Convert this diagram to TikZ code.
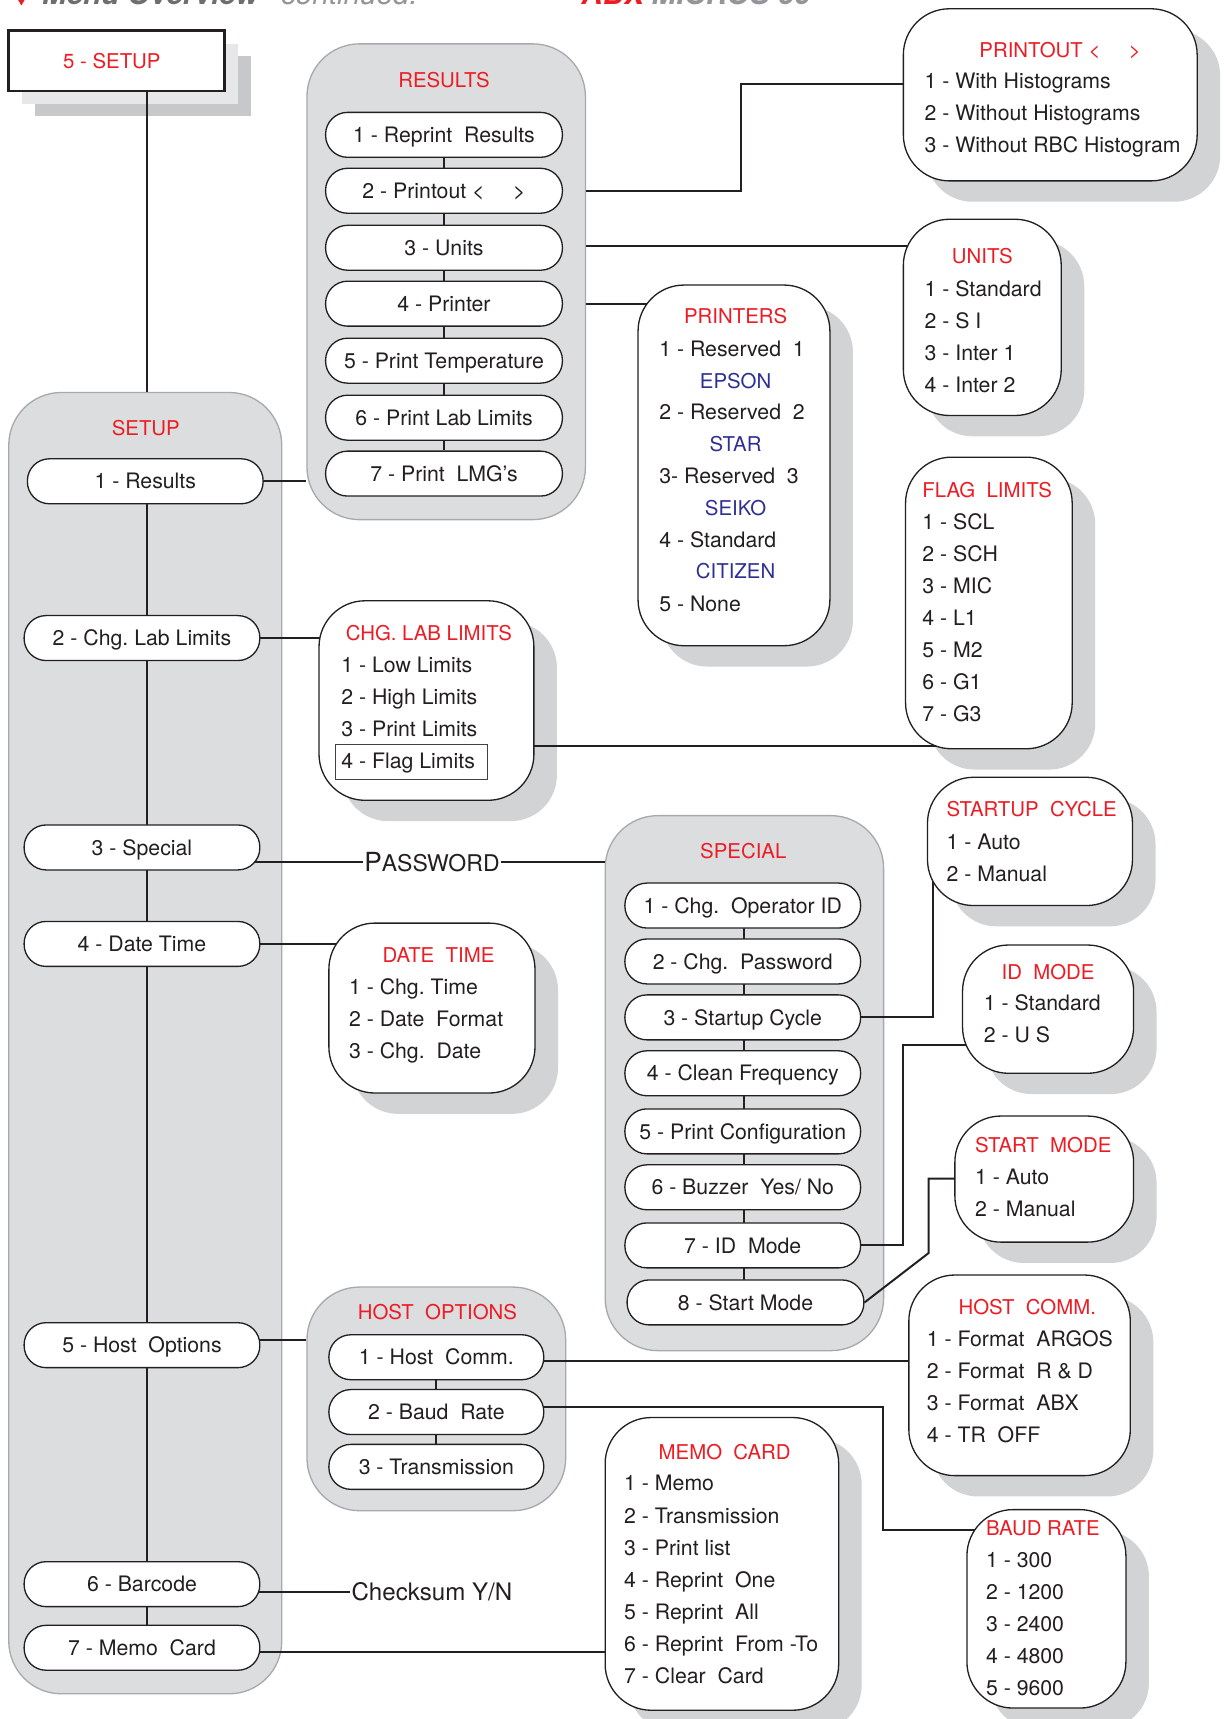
\documentclass[tikz,border=0pt]{standalone}
\usepackage{fontspec}
\setmainfont{TeX Gyre Heros}
\usetikzlibrary{fit,calc}
\frenchspacing
\definecolor{rd}{HTML}{ED1C24}
\definecolor{bl}{HTML}{2E3192}
\definecolor{ink}{HTML}{231F20}
\definecolor{contfill}{HTML}{DCDDDE}
\definecolor{contline}{HTML}{A7A9AC}
\definecolor{shd}{HTML}{D1D3D4}
\definecolor{shdl}{HTML}{E6E7E8}
\definecolor{shdd}{HTML}{C7C8CA}
\definecolor{hgray}{HTML}{6D6E71}
\definecolor{hlight}{HTML}{939598}
\pgfdeclarelayer{back}
\pgfdeclarelayer{conn}
\pgfsetlayers{back,conn,main}
\tikzset{
  every node/.style={text=ink, font=\fontsize{9.7}{12}\selectfont},
  itm/.style={inner sep=0pt, text height=7pt, text depth=0pt},
  ttl/.style={itm, text=rd, font=\fontsize{9.3}{12}\selectfont},
  brand/.style={itm, text=bl, font=\fontsize{9.3}{12}\selectfont},
  pill/.style={draw=ink, fill=white, line width=0.6pt, rounded corners=10pt,
    minimum height=20.5pt, inner sep=0pt, text height=7pt, text depth=0pt},
  cont/.style={draw=contline, fill=contfill, line width=0.6pt, rounded corners=24pt, inner sep=0pt},
  wbox/.style={draw=ink, fill=white, line width=0.6pt, rounded corners=21pt, inner sep=0pt},
  shadowbox/.style={fill=shd, rounded corners=21pt},
  conn/.style={draw=ink, line width=0.9pt},
  hdr/.style={anchor=base west, inner sep=0pt},
}
\newcommand\whitebox[5]{%
  \begin{pgfonlayer}{back}
    \fill[shadowbox] ({#2+21},{#3+19}) rectangle ({#4+21},{#5+19});
  \end{pgfonlayer}
  \node[wbox, fit={(#2,#3) (#4,#5)}] (#1) {};
}
\newcommand\itemlines[4]{%
  \foreach \txt [count=\k] in {#4} {\node[itm, anchor=west] (#1\k) at ({#2},{#3+(\k-1)*29.2}) {\txt};}%
}
\begin{document}
\begin{tikzpicture}[x=0.5pt,y=-0.5pt]
\useasboundingbox (0,0) rectangle (1116,1568);

% clipped header
\begin{scope}
  \clip (0,0) rectangle (1116,1568);
  \fill[rd] (13,-6) -- (26,-6) -- (19.5,5) -- cycle;
  \node[hdr, text=hgray, font=\fontsize{13.5}{15}\selectfont\bfseries\itshape] (hdra) at (38,4) {Menu Overview};
  \node[hdr, text=hlight, font=\fontsize{13.5}{15}\selectfont\itshape] (hdrb) at (256,4) {continued:};
  \node[hdr, text=rd, font=\fontsize{13.5}{15}\selectfont\bfseries\itshape] (hdrc) at (530,4) {ABX};
  \node[hdr, text=hlight, font=\fontsize{13.5}{15}\selectfont\bfseries\itshape] (hdrd) at (594,4) {MICROS 60};
\end{scope}

% 5 - SETUP box
\begin{pgfonlayer}{back}
  \fill[shdd] (32,51) rectangle (229,106);
  \fill[shdl] (20,40) rectangle (217,95);
\end{pgfonlayer}
\node[draw=ink, fill=white, line width=1.3pt, fit={(8,28) (205,83)}, inner sep=0pt] (setupbox) {};
\node[ttl] (tSetupBox) at (102,55.5) {5 - SETUP};

% containers
\begin{pgfonlayer}{back}
  \node[cont, fit={(8,358) (257,1545)}] (setupC) {};
  \node[cont, fit={(280,40) (534,474)}] (resC) {};
  \node[cont, fit={(552,744) (806,1232)}] (specC) {};
  \node[cont, fit={(280,1174) (516,1378)}] (hoC) {};
\end{pgfonlayer}
\node[ttl] (tSetup) at (133,390) {SETUP};
\node[ttl] (tRes) at (405,73) {RESULTS};
\node[ttl] (tSp) at (678,776) {SPECIAL};
\node[ttl] (tHo) at (399,1197) {HOST~~OPTIONS};

% setup pills
\node[pill, minimum width=107.5pt] (s1) at (132.5,439) {1 - Results};
\node[pill, minimum width=107.5pt] (s2) at (129.5,582) {2 - Chg. Lab Limits};
\node[pill, minimum width=107.5pt] (s3) at (129.5,773) {3 - Special};
\node[pill, minimum width=107.5pt] (s4) at (129.5,861) {4 - Date Time};
\node[pill, minimum width=107.5pt] (s5) at (129.5,1227) {5 - Host~~Options};
\node[pill, minimum width=107.5pt] (s6) at (129.5,1445) {6 - Barcode};
\node[pill, minimum width=107.5pt] (s7) at (129.5,1503) {7 - Memo~~Card};

% results pills
\node[pill, minimum width=108pt] (res1) at (405,123) {1 - Reprint~~Results};
\node[pill, minimum width=108pt] (res2) at (405,174) {2 - Printout <\hspace{13pt}>};
\node[pill, minimum width=108pt] (res3) at (405,226) {3 - Units};
\node[pill, minimum width=108pt] (res4) at (405,277) {4 - Printer};
\node[pill, minimum width=108pt] (res5) at (405,329) {5 - Print Temperature};
\node[pill, minimum width=108pt] (res6) at (405,381) {6 - Print Lab Limits};
\node[pill, minimum width=108pt] (res7) at (405,432) {7 - Print~~LMG’s};

% special pills
\node[pill, minimum width=107.5pt] (sp1) at (677.5,826) {1 - Chg.~~Operator ID};
\node[pill, minimum width=107.5pt] (sp2) at (677.5,877) {2 - Chg.~~Password};
\node[pill, minimum width=107.5pt] (sp3) at (677.5,928) {3 - Startup Cycle};
\node[pill, minimum width=107.5pt] (sp4) at (677.5,979) {4 - Clean Frequency};
\node[pill, minimum width=107.5pt] (sp5) at (677.5,1032) {5 - Print Configuration};
\node[pill, minimum width=107.5pt] (sp6) at (677.5,1083) {6 - Buzzer~~Yes/ No};
\node[pill, minimum width=107.5pt] (sp7) at (677.5,1136) {7 - ID~~Mode};
\node[pill, minimum width=108pt] (sp8) at (680,1188) {8 - Start Mode};

% host option pills
\node[pill, minimum width=98pt] (ho1) at (398,1238) {1 - Host~~Comm.};
\node[pill, minimum width=98pt] (ho2) at (398,1288) {2 - Baud~~Rate};
\node[pill, minimum width=98pt] (ho3) at (398,1338) {3 - Transmission};

% white boxes
\whitebox{pbox}{824}{8}{1092}{165}
\whitebox{units}{824}{200}{968}{379}
\whitebox{printers}{582}{260}{757}{589}
\whitebox{flag}{826}{417}{978}{683}
\whitebox{chg}{291}{548}{487}{730}
\whitebox{startup}{846}{709}{1033}{826}
\whitebox{idmode}{878}{862}{1034}{979}
\whitebox{smode}{871}{1018}{1034}{1133}
\whitebox{dt}{300}{842}{488}{997}
\whitebox{hcomm}{829}{1163}{1031}{1346}
\whitebox{baud}{882}{1377}{1027}{1558}
\whitebox{memo}{552}{1293}{765}{1560}

% box titles
\node[ttl] (tPo) at (967,45) {PRINTOUT <\hspace{13pt}>};
\node[ttl] (tUn) at (896,233) {UNITS};
\node[ttl] (tPr) at (671,288) {PRINTERS};
\node[ttl, anchor=west] (tFl) at (841,447) {FLAG~~LIMITS};
\node[ttl, anchor=west] (tCh) at (315,577) {CHG. LAB LIMITS};
\node[ttl, anchor=west] (tSc) at (863,738) {STARTUP~~CYCLE};
\node[ttl] (tId) at (956,886) {ID~~MODE};
\node[ttl, anchor=west] (tSm) at (889,1044) {START~~MODE};
\node[ttl] (tDt) at (400,871) {DATE~~TIME};
\node[ttl] (tHc) at (937,1192) {HOST~~COMM.};
\node[ttl, anchor=west] (tBr) at (899,1394) {BAUD RATE};
\node[ttl] (tMc) at (661,1324) {MEMO~~CARD};

% box contents
\itemlines{po}{843}{74}{1 - With Histograms,2 - Without Histograms,3 - Without RBC Histogram}
\itemlines{un}{843}{263}{1 - Standard,2 - S I,3 - Inter 1,4 - Inter 2}
\itemlines{fl}{841}{476}{1 - SCL,2 - SCH,3 - MIC,4 - L1,5 - M2,6 - G1,7 - G3}
\itemlines{ch}{311}{606}{1 - Low Limits,2 - High Limits,3 - Print Limits,4 - Flag Limits}
\itemlines{dtl}{318}{900}{1 - Chg. Time,2 - Date~~Format,3 - Chg.~~Date}
\itemlines{scl}{863}{768}{1 - Auto,2 - Manual}
\itemlines{idl}{897}{915}{1 - Standard,2 - U S}
\itemlines{sml}{889}{1073}{1 - Auto,2 - Manual}
\itemlines{hcl}{845}{1221}{1 - Format~~ARGOS,2 - Format~~R \& D,3 - Format~~ABX,4 - TR~~OFF}
\itemlines{brl}{899}{1423}{1 - 300,2 - 1200,3 - 2400,4 - 4800,5 - 9600}
\itemlines{mcl}{569}{1353}{1 - Memo,2 - Transmission,3 - Print list,4 - Reprint~~One,5 - Reprint~~All,6 - Reprint~~From -To,7 - Clear~~Card}

\node[itm, anchor=west] (pr1) at (601,318) {1 - Reserved~~1};
\node[brand] (pr2) at (671,347) {EPSON};
\node[itm, anchor=west] (pr3) at (601,376) {2 - Reserved~~2};
\node[brand] (pr4) at (671,405) {STAR};
\node[itm, anchor=west] (pr5) at (601,434) {3- Reserved~~3};
\node[brand] (pr6) at (671,463) {SEIKO};
\node[itm, anchor=west] (pr7) at (601,492) {4 - Standard};
\node[brand] (pr8) at (671,521) {CITIZEN};
\node[itm, anchor=west] (pr9) at (601,551) {5 - None};

\node[draw=ink!85, line width=0.4pt, fit={(306,679) (445,711)}, inner sep=0pt] (flagrect) {};

% free labels
\node[inner sep=0.6pt, text height=8.6pt, text depth=0pt] (pw) at (394,786)
  {{\fontsize{12}{12}\selectfont P}{\fontsize{10.5}{12}\selectfont ASSWORD}};
\node[inner sep=0.6pt, text height=8pt, text depth=0pt, font=\fontsize{11}{13}\selectfont] (cks) at (394,1452) {Checksum Y/N};

% connectors
\begin{pgfonlayer}{conn}
  \coordinate (vx) at (134,0);
  \coordinate (sx) at (679,0);
  \draw[conn] (setupbox.south -| vx) -- (setupC.north -| vx);
  \draw[conn] (s1.center -| vx) -- (s7.center -| vx);
  \draw[conn] (res1) -- (res7);
  \draw[conn] (sp1.center -| sx) -- (sp8.center -| sx);
  \draw[conn] (ho1) -- (ho3);

  \draw[conn] (s1) -- (resC.west |- s1);
  \coordinate (j1) at (676,77);
  \draw[conn] (resC.east |- res2) -| (j1) -- (j1 -| pbox.center);
  \draw[conn] ([yshift=1pt]resC.east |- res3) -- ([yshift=1pt]units.center |- res3);
  \draw[conn] (resC.east |- res4) -- (printers.center |- res4);

  \draw[conn] (s2) -- (chg.center |- s2);
  \draw[conn] ([yshift=-1pt]flagrect.north east) -- ([yshift=-1pt]flagrect.north east -| flag.center);

  \draw[conn] (s3.center |- pw) -- (pw.west);
  \draw[conn] (pw.east) -- (specC.west |- pw);
  \draw[conn] (s4) -- (dt.center |- s4);

  \draw[conn] (sp3) -| ([xshift=3pt]startup.west);
  \coordinate (j4) at (824,953);
  \draw[conn] (sp7) -| (j4) -- (j4 -| idmode.center);
  \coordinate (j5) at (847,1143);
  \coordinate (j6) at (847,1075);
  \draw[conn] (sp8.east) -- (j5) -- (j6) -- (j6 -| smode.center);

  \draw[conn] ([yshift=2.5pt]s5.center) -- ([yshift=2.5pt]hoC.west |- s5.center);
  \draw[conn] ([yshift=-1.5pt]ho1.center) -- ([yshift=-1.5pt]hcomm.center |- ho1.center);
  \coordinate (j2) at (805,1396);
  \draw[conn] ([yshift=2.5pt]ho2.center) -| (j2) -- (j2 -| baud.center);

  \draw[conn] (cks.west -| s6.center) -- (cks.west);
  \draw[conn] ([yshift=-2pt]s7.center) -- ([yshift=-2pt]memo.center |- s7.center);
\end{pgfonlayer}
\end{tikzpicture}
\end{document}
